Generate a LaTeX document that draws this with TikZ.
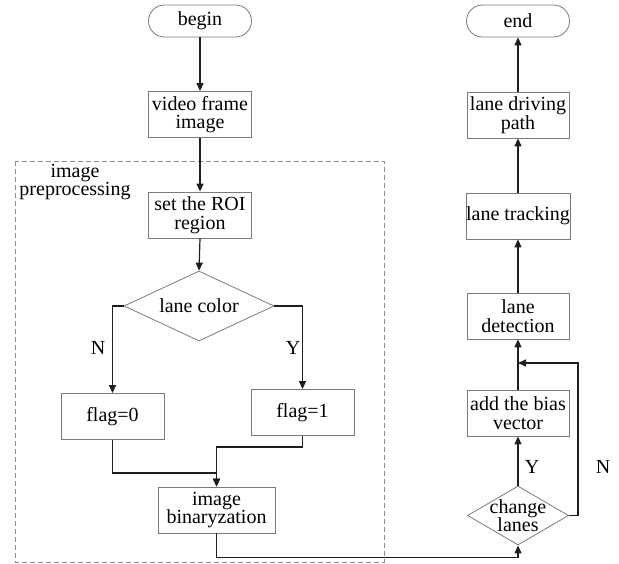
\documentclass[tikz,border=0pt]{standalone}
\usepackage{fontspec}
\setmainfont{Liberation Serif}
\usetikzlibrary{arrows.meta,shapes.geometric}
\definecolor{boxline}{HTML}{7A7A7A}
\definecolor{flowline}{HTML}{1E1E1E}
\definecolor{groupline}{HTML}{8C8C8C}
\tikzset{
  txt/.style={font=\fontsize{20}{18.5}\selectfont, align=center, text=black},
  procbox/.style={txt, draw=boxline, line width=0.8pt, rectangle, inner sep=0pt,
    minimum width=103pt, minimum height=46pt},
  termbox/.style={procbox, rounded corners=16pt, minimum height=32pt},
  decision/.style={draw=boxline, line width=0.8pt, diamond, inner sep=0pt},
  flow/.style={draw=flowline, line width=1.2pt, -{Triangle[length=8pt,width=7pt]}},
  branchlbl/.style={txt}
}
\begin{document}
\begin{tikzpicture}[x=1pt,y=-1pt]
\useasboundingbox (0,0) rectangle (619,564);

% preprocessing group
\draw[groupline, line width=0.8pt, dash pattern=on 5pt off 3pt] (15,161) rectangle (384,562);
\node[txt] (grp) at (75,182) {image\\preprocessing};

% left column
\node[termbox] (begin) at (200,21) {begin};
\node[procbox] (video) at (200,114.5) {video frame\\image};
\node[procbox] (roi) at (200,215) {set the ROI\\region};
\node[decision, minimum width=150pt, minimum height=70pt,
      label={[txt]center:lane color}] (color) at (199,306) {};
\node[procbox] (flag0) at (112.5,416.5) {flag=0};
\node[procbox] (flag1) at (302.5,412.5) {flag=1};
\node[procbox, minimum width=117pt] (binary) at (216.5,510) {image\\binaryzation};

% right column
\node[termbox] (end) at (518,21) {end};
\node[procbox, minimum width=102pt] (path) at (518,115) {lane driving\\path};
\node[procbox, minimum width=102pt] (track) at (518,216) {lane tracking};
\node[procbox, minimum width=102pt] (det) at (518,316) {lane\\detection};
\node[procbox, minimum width=102pt] (bias) at (518,413) {add the bias\\vector};
\node[decision, minimum width=101pt, minimum height=59pt,
      label={[txt]center:change\\lanes}] (cl) at (518,515.5) {};
\coordinate (join) at (518,363);

% connectors, left column
\draw[flow] (begin.south) -- (video.north);
\draw[flow] (video.south) -- (roi.north);
\draw[flow] (roi.south) -- (color.north);
\draw[flow] (color.west) -| (flag0.north);
\draw[flow] (color.east) -| (flag1.north);
\node[branchlbl] (nlbl) at (98,348) {N};
\node[branchlbl] (ylbl) at (293,348) {Y};
\draw[flow] (flag0.south) |- (binary.north |- 0,473) -- (binary.north);
\draw[flow] (flag1.south) |- (binary.north |- 0,447) -- (binary.north);
\draw[flow] (binary.south) -- ++(0,24) -| (cl.south);

% connectors, right column
\draw[flow] (cl.north) -- (bias.south);
\node[branchlbl] (ylbl2) at (532,467) {Y};
\draw[flow] (cl.east) -- ++(9,0) |- (join);
\node[branchlbl] (nlbl2) at (603,467) {N};
\draw[flow] (bias.north) -- (det.south);
\draw[flow] (det.north) -- (track.south);
\draw[flow] (track.north) -- (path.south);
\draw[flow] (path.north) -- (end.south);
\end{tikzpicture}
\end{document}
